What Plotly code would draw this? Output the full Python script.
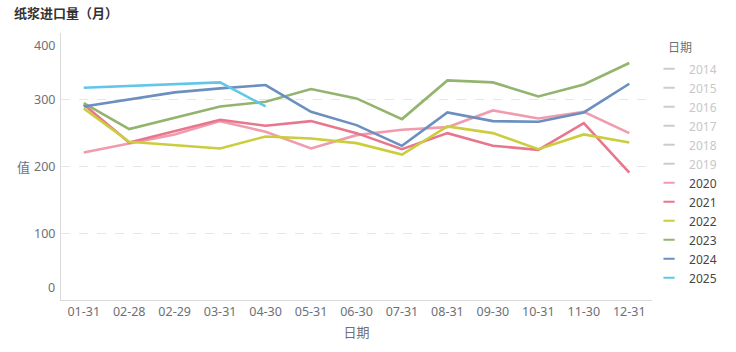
import plotly.graph_objects as go

title_text = "纸浆进口量（月）"
legend_title = "日期"
categories = ["01-31", "02-28", "02-29", "03-31", "04-30", "05-31", "06-30",
              "07-31", "08-31", "09-30", "10-31", "11-30", "12-31"]
hidden_years = ["2014", "2015", "2016", "2017", "2018", "2019"]
years = ["2020", "2021", "2022", "2023", "2024", "2025"]
values = {
    "2020": [221, None, 248, 268, 252, 227, 247, 255, 259, 284, 272, 282, 250],
    "2021": [293, 236, None, 270, 261, 268, 250, 226, 250, 231, 225, 265, 191],
    "2022": [287, 237, None, 227, 245, 242, 235, 218, 260, 250, 226, 248, 236],
    "2023": [295, 256, None, 290, 297, 316, 302, 271, 329, 326, 305, 323, 355],
    "2024": [290, None, 311, 317, 322, 282, 262, 231, 281, 268, 267, 281, 324],
    "2025": [318, 321, None, 326, 290],
}
colors = {
    "2020": "#f09cae",
    "2021": "#e8768c",
    "2022": "#cbcd3c",
    "2023": "#93b46e",
    "2024": "#6b8fbf",
    "2025": "#62c6e8",
}
y_ticks = [0, 100, 200, 300, 400]

FONT = "Noto Sans, Noto Sans CJK SC, sans-serif"
fig = go.Figure()

# data lines
for yr in years:
    vals = values[yr]
    fig.add_trace(go.Scatter(
        x=categories[:len(vals)], y=vals, mode="lines", name=yr,
        line=dict(color=colors[yr], width=2.6), connectgaps=True,
        showlegend=False, legendgroup=yr,
    ))

# legend entries (short dash symbols)
for yr in hidden_years:
    fig.add_trace(go.Scatter(
        x=[None], y=[None], mode="markers",
        name="<span style='color:#c8c8c8'>" + yr + "</span>",
        marker=dict(symbol="line-ew", size=8, line=dict(color="#cccccc", width=2)),
        showlegend=True,
    ))
for yr in years:
    fig.add_trace(go.Scatter(
        x=[None], y=[None], mode="markers", name=yr, legendgroup=yr,
        marker=dict(symbol="line-ew", size=8, line=dict(color=colors[yr], width=2)),
        showlegend=True,
    ))

# y tick labels as annotations (end labels nudged inward)
for v in y_ticks:
    shift = 0
    if v == y_ticks[0]:
        shift = 13
    elif v == y_ticks[-1]:
        shift = -12
    fig.add_annotation(x=0, xref="paper", y=v, yref="y", text=str(v),
                       showarrow=False, xanchor="right", yanchor="middle",
                       xshift=-4, yshift=shift,
                       font=dict(size=12.5, color="#6e7079", family=FONT))

fig.add_annotation(x=-0.035, xref="paper", y=200, yref="y", text="值", showarrow=False,
                   xanchor="right", yanchor="middle", xshift=-8,
                   font=dict(size=13, color="#6e7079", family=FONT))

# legend title
fig.add_annotation(x=1.0, xref="paper", y=1.0, yref="paper", text=legend_title,
                   showarrow=False, xanchor="left", yanchor="middle",
                   xshift=14, yshift=-14,
                   font=dict(size=12, color="#6e7079", family=FONT))

fig.update_layout(
    width=736, height=352,
    margin=dict(l=61, r=84, t=33, b=52),
    paper_bgcolor="white", plot_bgcolor="white",
    font=dict(family=FONT, size=12, color="#6e7079"),
    title=dict(text="<b>" + title_text + "</b>", x=0.019, xanchor="left",
               y=0.962, yanchor="middle",
               font=dict(size=13, color="#333333", family=FONT)),
    xaxis=dict(type="category", categoryorder="array", categoryarray=categories,
               range=[-0.5, 12.5], showgrid=False, showline=True,
               linecolor="#d9d9d9", linewidth=1, ticks="", zeroline=False,
               tickfont=dict(size=12.5, color="#6e7079"),
               title=dict(text="日期", font=dict(size=13, color="#6e7079"), standoff=8)),
    yaxis=dict(range=[0, 400], tickvals=y_ticks, showticklabels=False,
               showgrid=True, gridcolor="#e6e6e6", griddash="dash", gridwidth=1,
               showline=True, linecolor="#d9d9d9", linewidth=1, zeroline=False,
               ticks=""),
    legend=dict(x=0.995, xanchor="left", y=0.92, yanchor="top",
                font=dict(size=12, color="#464646"), maxheight=340,
                tracegroupgap=0, itemwidth=30, bgcolor="rgba(0,0,0,0)"),
    showlegend=True,
)

fig.write_html("out.html")
